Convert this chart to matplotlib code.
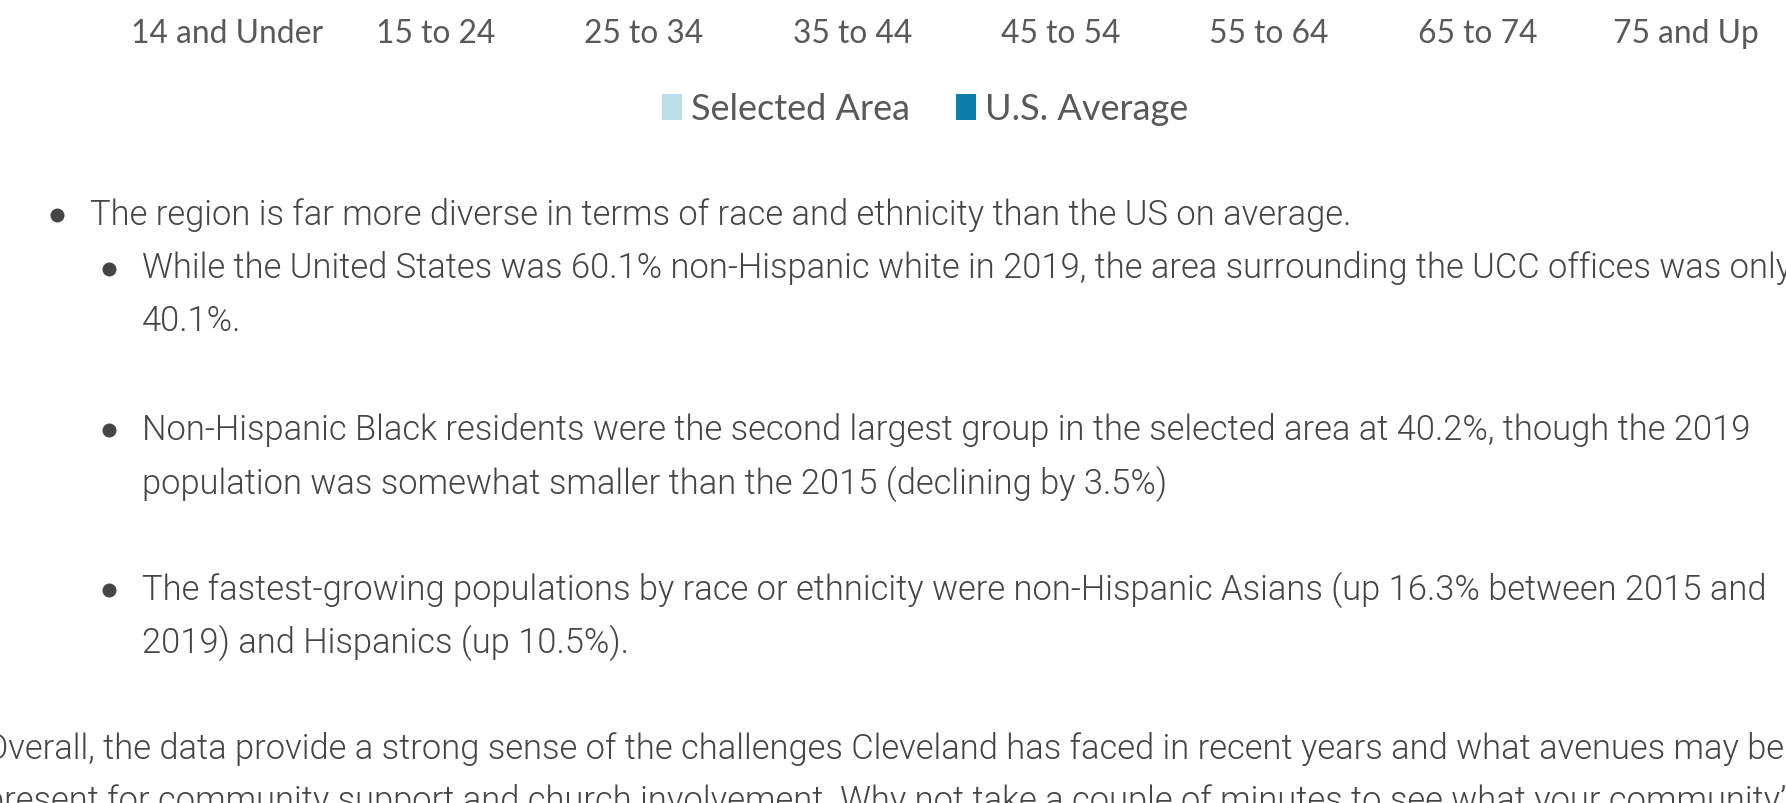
import matplotlib
matplotlib.use("Agg")
import matplotlib.pyplot as plt
from matplotlib.patches import Patch
from matplotlib.lines import Line2D

# ---- data ----
categories = ["14 and Under", "15 to 24", "25 to 34", "35 to 44",
              "45 to 54", "55 to 64", "65 to 74", "75 and Up"]
series_names = ["Selected Area", "U.S. Average"]
series_colors = ["#c0dfec", "#0b7eab"]

bullet_lines = [
    # (level, text, continuation?)
    (0, "The region is far more diverse in terms of race and ethnicity than the US on average.", False),
    (1, "While the United States was 60.1% non-Hispanic white in 2019, the area surrounding the UCC offices was only", False),
    (1, "40.1%.", True),
    (1, "Non-Hispanic Black residents were the second largest group in the selected area at 40.2%, though the 2019", False),
    (1, "population was somewhat smaller than the 2015 (declining by 3.5%)", True),
    (1, "The fastest-growing populations by race or ethnicity were non-Hispanic Asians (up 16.3% between 2015 and", False),
    (1, "2019) and Hispanics (up 10.5%).", True),
]
para_lines = [
    "Overall, the data provide a strong sense of the challenges Cleveland has faced in recent years and what avenues may be",
    "present for community support and church involvement. Why not take a couple of minutes to see what your community\u2019s",
]

# ---- figure ----
W, H = 1786, 804
DPI = 100
fig = plt.figure(figsize=(W / DPI, H / DPI), dpi=DPI)
fig.patch.set_facecolor("white")
renderer = fig.canvas.get_renderer()

LABEL_FONT = "Lato"
BODY_FONT = "Roboto"
BODY_WEIGHT = 300
TXT = "#454545"
AX_TXT = "#595959"


def fit_size(text, family, weight, target_px, start=20.0):
    t = fig.text(0, 0, text, fontsize=start, family=family, weight=weight)
    w = t.get_window_extent(renderer).width
    t.remove()
    return start * target_px / w


def px(x, y):
    """pixel (from top-left) -> figure fraction"""
    return x / W, 1 - y / H

# ---- chart axis (bars are above the visible area) ----
tick_fs = fit_size(categories[0], LABEL_FONT, "normal", 192)
left_px, width_px = 123, 1667
ax = fig.add_axes([left_px / W, 1.0, width_px / W, 0.3])
ax.set_xlim(-0.5, len(categories) - 0.5)
ax.set_xticks(range(len(categories)), categories)
ax.set_yticks([])
for s in ax.spines.values():
    s.set_visible(False)
ax.patch.set_visible(False)
ax.tick_params(axis="x", length=0, pad=19 * 0.72, labelsize=tick_fs,
               labelcolor=AX_TXT)
for lbl in ax.get_xticklabels():
    lbl.set_family(LABEL_FONT)

# ---- legend ----
leg_fs = fit_size(series_names[0], LABEL_FONT, "normal", 220)
em = leg_fs / 0.72
handles = [Patch(facecolor=c, edgecolor="none", label=n)
           for n, c in zip(series_names, series_colors)]
fig.legend(handles=handles, loc="center", bbox_to_anchor=px(925, 110),
           ncol=2, frameon=False,
           prop={"family": LABEL_FONT, "size": leg_fs},
           handlelength=20 / em, handleheight=0.7, handletextpad=9 / em,
           columnspacing=46 / em, borderpad=0, borderaxespad=0,
           labelcolor=AX_TXT)

# ---- body text ----
body_fs = fit_size(bullet_lines[0][1], BODY_FONT, BODY_WEIGHT, 1249) * 1.011
baselines = [225, 278.5, 331, 440, 493.5, 599.5, 653]
text_x = {0: 90, 1: 142}
bullet_x = {0: 57, 1: 109}
for (lvl, txt, cont), yb in zip(bullet_lines, baselines):
    fig.text(*px(text_x[lvl], yb), txt, fontsize=body_fs, family=BODY_FONT,
             weight=BODY_WEIGHT, color=TXT, va="baseline", ha="left")
    if not cont:
        fig.add_artist(Line2D([bullet_x[lvl] / W], [1 - (yb - 9) / H],
                              transform=fig.transFigure, marker="o",
                              markersize=14 * 0.72, color=TXT,
                              markeredgewidth=0, linestyle="none"))

for txt, yb in zip(para_lines, [759, 811]):
    fig.text(*px(-15, yb), txt, fontsize=body_fs, family=BODY_FONT,
             weight=BODY_WEIGHT, color=TXT, va="baseline", ha="left")

fig.savefig("out.png", dpi=DPI, facecolor="white")
